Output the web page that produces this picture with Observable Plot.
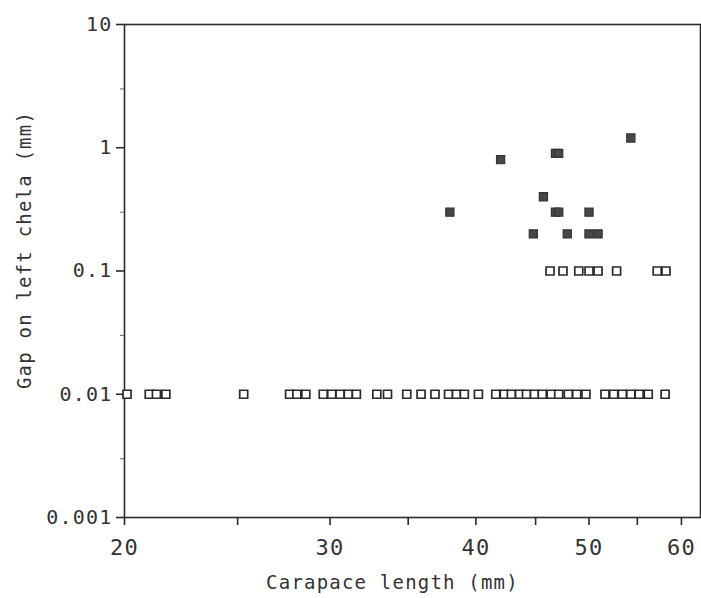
<!DOCTYPE html>
<html>
<head>
<meta charset="utf-8">
<script src="https://cdn.jsdelivr.net/npm/d3@7"></script>
<script src="https://cdn.jsdelivr.net/npm/@observablehq/plot@0.6"></script>
<style>
  html, body { margin: 0; padding: 0; background: #fff; }
  #chart svg text { letter-spacing: 1.2px; }
</style>
</head>
<body>
<div id="chart"></div>
<script>
// Tick values and labels
const xMajor = [20, 30, 40, 50, 60];
const xMinor = [25, 35, 45, 55];
const yMajor = [10, 1, 0.1, 0.01, 0.001];
const yMajorLabels = ["10", "1", "0.1", "0.01", "0.001"];
const yMinor = [3, 0.3, 0.03, 0.003];
const xDomain = [20, 62.3];
const yDomain = [0.001, 10];

// Open squares at gap = 0.01 mm (no gap)
const openLowX = [20.1, 21.0, 21.3, 21.7, 25.3, 27.7, 28.1, 28.6, 29.6, 30.1, 30.6, 31.1, 31.6,
  32.9, 33.6, 34.9, 35.9, 36.9, 37.9, 38.5, 39.1, 40.2, 41.6, 42.3, 42.9, 43.6, 44.2, 44.9,
  45.6, 46.4, 47.1, 48.0, 48.8, 49.7, 51.6, 52.5, 53.4, 54.3, 55.2, 56.2, 58.1];
const openLowY = 0.01;
// Open squares at gap = 0.1 mm
const openHighX = [46.3, 47.5, 49.0, 50.0, 50.9, 52.8, 57.2, 58.2];
const openHighY = 0.1;
// Filled squares
const filledX = [54.3, 42.0, 46.8, 47.1, 45.7, 38.0, 46.8, 47.1, 50.0, 44.8, 47.9, 50.0, 50.9];
const filledY = [1.2, 0.8, 0.9, 0.9, 0.4, 0.3, 0.3, 0.3, 0.3, 0.2, 0.2, 0.2, 0.2];

const openLow = openLowX.map(x => ({x, y: openLowY}));
const openHigh = openHighX.map(x => ({x, y: openHighY}));
const filled = filledX.map((x, i) => ({x, y: filledY[i]}));

const ink = "#2a2a2a";
const font = "DejaVu Sans Mono";

const chart = Plot.plot({
  width: 701,
  height: 598,
  marginLeft: 124,
  marginRight: 1,
  marginTop: 24,
  marginBottom: 81,
  style: {fontFamily: font, color: ink, background: "#fff"},
  x: {type: "log", domain: xDomain, axis: null},
  y: {type: "log", domain: yDomain, axis: null},
  marks: [
    Plot.frame({stroke: ink, strokeWidth: 1.6}),
    Plot.axisX(xMajor, {tickSize: 8, strokeWidth: 1.6, stroke: ink, tickPadding: 14, fontSize: 22, fill: "#333",
      tickFormat: d => String(d), label: null}),
    Plot.axisX(xMinor, {tickSize: 8, strokeWidth: 1.6, stroke: ink, tickFormat: () => "", label: null}),
    Plot.axisY(yMajor, {tickSize: 8, strokeWidth: 1.6, stroke: ink, tickPadding: 4, fontSize: 20, fill: "#333",
      tickFormat: d => yMajorLabels[yMajor.indexOf(d)], label: null}),
    Plot.axisY(yMinor, {tickSize: 4, strokeWidth: 1.2, stroke: "#777", tickFormat: () => "", label: null}),
    Plot.dot(openLow, {x: "x", y: "y", symbol: "square", r: 4.5, fill: "#fff", stroke: ink, strokeWidth: 1.7}),
    Plot.dot(openHigh, {x: "x", y: "y", symbol: "square", r: 4.5, fill: "#fff", stroke: ink, strokeWidth: 1.7}),
    Plot.dot(filled, {x: "x", y: "y", symbol: "square", r: 4.6, fill: "#474747", stroke: "#333", strokeWidth: 1.2}),
    Plot.text(["Carapace length (mm)"], {frameAnchor: "bottom", lineAnchor: "middle", textAnchor: "middle",
      dx: -20, dy: 65, fontSize: 19, fill: "#333"}),
    Plot.text(["Gap on left chela (mm)"], {frameAnchor: "left", lineAnchor: "middle", textAnchor: "middle",
      dx: -100, dy: -21, rotate: -90, fontSize: 19, fill: "#333"})
  ]
});
document.getElementById("chart").appendChild(chart);
</script>
</body>
</html>
